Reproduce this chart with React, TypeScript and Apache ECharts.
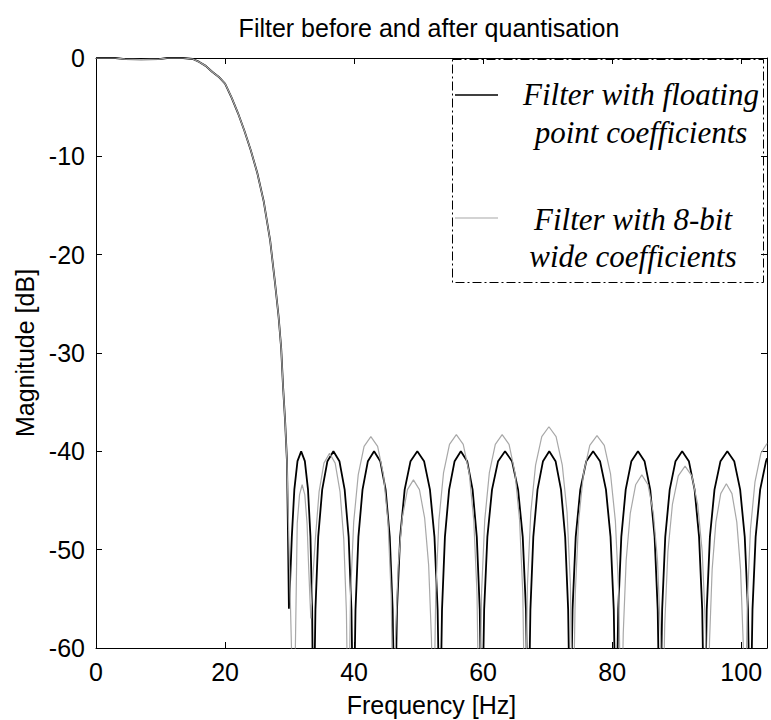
import { useEffect, useRef } from "react";
import * as echarts from "echarts";

// ---------- data ----------
const xTicks = [0, 20, 40, 60, 80, 100];
const yTicks = [0, -10, -20, -30, -40, -50, -60];

// passband + transition band (shared by both responses)
const transitionHz = [0, 3, 4.5, 7, 9.8, 11, 13.5, 15, 16, 17, 18, 19, 20, 21, 22, 23, 24, 25, 26, 27, 27.75, 28.3, 28.7, 29.0, 29.3, 29.6];
const transitionDb = [0, 0, -0.12, -0.15, -0.12, 0, 0, -0.1, -0.4, -0.8, -1.4, -1.9, -2.6, -4.0, -5.6, -7.4, -9.4, -11.7, -14.6, -18.6, -22.9, -26.3, -29.5, -33.5, -36.8, -41.0];

// stopband, floating point coefficients
const floatHz = [
  29.75, 29.9, 30.1, 30.35, 30.74, 31.23, 31.8, 32.37, 32.86, 33.24, 33.5, 33.7,
  34.01, 34.44, 35.06, 35.87, 36.8, 37.73, 38.54, 39.16, 39.59, 39.9,
  40.22, 40.67, 41.31, 42.14, 43.1, 44.06, 44.89, 45.53, 45.98, 46.3,
  46.65, 47.14, 47.84, 48.75, 49.8, 50.85, 51.76, 52.46, 52.95, 53.3,
  53.63, 54.08, 54.73, 55.58, 56.55, 57.53, 58.37, 59.02, 59.48, 59.8,
  60.16, 60.66, 61.38, 62.32, 63.4, 64.48, 65.42, 66.14, 66.64, 67.0,
  67.33, 67.78, 68.43, 69.28, 70.25, 71.23, 72.07, 72.72, 73.18, 73.5,
  73.86, 74.35, 75.06, 75.99, 77.05, 78.12, 79.04, 79.75, 80.25, 80.6,
  80.94, 81.42, 82.1, 82.98, 84.0, 85.02, 85.9, 86.58, 87.06, 87.4,
  87.75, 88.23, 88.92, 89.82, 90.85, 91.89, 92.78, 93.47, 93.96, 94.3,
  94.66, 95.15, 95.86, 96.79, 97.85, 98.92, 99.84, 100.55, 101.05, 101.4,
  101.75, 102.24, 102.94, 103.85, 104,
];
const floatDb = [
  -48, -56, -53, -48.7, -43.9, -41.0, -40, -41.0, -43.9, -48.7, -56.1, -70,
  -56.1, -48.7, -43.9, -41.0, -40, -41.0, -43.9, -48.7, -56.1, -70,
  -56.1, -48.7, -43.9, -41.0, -40, -41.0, -43.9, -48.7, -56.1, -70,
  -56.1, -48.7, -43.9, -41.0, -40, -41.0, -43.9, -48.7, -56.1, -70,
  -56.1, -48.7, -43.9, -41.0, -40, -41.0, -43.9, -48.7, -56.1, -70,
  -56.1, -48.7, -43.9, -41.0, -40, -41.0, -43.9, -48.7, -56.1, -70,
  -56.1, -48.7, -43.9, -41.0, -40, -41.0, -43.9, -48.7, -56.1, -70,
  -56.1, -48.7, -43.9, -41.0, -40, -41.0, -43.9, -48.7, -56.1, -70,
  -56.1, -48.7, -43.9, -41.0, -40, -41.0, -43.9, -48.7, -56.1, -70,
  -56.1, -48.7, -43.9, -41.0, -40, -41.0, -43.9, -48.7, -56.1, -70,
  -56.1, -48.7, -43.9, -41.0, -40, -41.0, -43.9, -48.7, -56.1, -70,
  -56.1, -48.7, -43.9, -41.0, -40.7,
];

// stopband, 8-bit wide coefficients
const quantHz = [
  30.0, 30.3, 30.6, 30.9, 31.19, 31.55, 31.95, 32.36, 32.71, 32.98, 33.16, 33.3,
  33.59, 34.0, 34.58, 35.33, 36.2, 37.07, 37.82, 38.4, 38.81, 39.1,
  39.45, 39.94, 40.64, 41.55, 42.6, 43.65, 44.56, 45.26, 45.75, 46.1,
  46.41, 46.84, 47.46, 48.27, 49.2, 50.13, 50.94, 51.56, 51.99, 52.3,
  52.66, 53.15, 53.86, 54.79, 55.85, 56.92, 57.84, 58.55, 59.05, 59.4,
  59.76, 60.25, 60.96, 61.89, 62.95, 64.02, 64.94, 65.65, 66.15, 66.5,
  66.87, 67.39, 68.13, 69.09, 70.2, 71.31, 72.27, 73.01, 73.53, 73.9,
  74.28, 74.8, 75.55, 76.53, 77.65, 78.78, 79.75, 80.5, 81.03, 81.4,
  81.72, 82.17, 82.81, 83.64, 84.6, 85.56, 86.39, 87.03, 87.48, 87.8,
  88.15, 88.64, 89.34, 90.25, 91.3, 92.35, 93.26, 93.96, 94.45, 94.8,
  95.09, 95.5, 96.08, 96.83, 97.7, 98.57, 99.32, 99.9, 100.31, 100.6,
  100.95, 101.44, 102.14, 103.05, 104,
];
const quantDb = [
  -52, -60, -68, -60, -47.3, -44.4, -43.4, -44.4, -47.3, -52.1, -55, -57,
  -53, -48.9, -44.1, -41.2, -40.2, -41.2, -44.1, -48.9, -56.3, -70,
  -54.6, -47.2, -42.4, -39.5, -38.5, -39.5, -42.4, -47.2, -54.6, -70,
  -59.0, -51.6, -46.8, -43.9, -42.9, -43.9, -46.8, -51.6, -59.0, -70,
  -54.4, -47.0, -42.2, -39.3, -38.3, -39.3, -42.2, -47.0, -54.4, -70,
  -54.4, -47.0, -42.2, -39.3, -38.3, -39.3, -42.2, -47.0, -54.4, -70,
  -53.6, -46.2, -41.4, -38.5, -37.5, -38.5, -41.4, -46.2, -53.6, -70,
  -54.5, -47.1, -42.3, -39.4, -38.4, -39.4, -42.3, -47.1, -54.5, -70,
  -58.5, -51.1, -46.3, -43.4, -42.4, -43.4, -46.3, -51.1, -58.5, -70,
  -57.6, -50.2, -45.4, -42.5, -41.5, -42.5, -45.4, -50.2, -57.6, -70,
  -59.4, -52.0, -47.2, -44.3, -43.3, -44.3, -47.2, -52.0, -59.4, -70,
  -55.3, -47.9, -43.1, -40.2, -39.2,
];

const legendFloat = "Filter with floating\npoint coefficients";
const legendQuant = "Filter with 8-bit\nwide coefficients";

// ---------- styling ----------
const SANS = "'Liberation Sans', Arial, sans-serif";
const SERIF = "'Liberation Serif', 'Times New Roman', serif";
const GRAY = "#a8a8a8";

const pairs = (xs: number[], ys: number[]) => xs.map((x, i) => [x, ys[i]]);

export default function App() {
  const ref = useRef<HTMLDivElement>(null);

  useEffect(() => {
    const chart = echarts.init(ref.current!, null, { renderer: "svg" });
    const shared = pairs(transitionHz, transitionDb);
    const floatData = [...shared, ...pairs(floatHz, floatDb)];
    const quantData = [...shared, ...pairs(quantHz, quantDb)];

    const axisLine = { show: true, onZero: false, lineStyle: { color: "#000", width: 1 } };
    const axisTick = { show: true, inside: true, length: 6, lineStyle: { color: "#000", width: 1 } };

    chart.setOption({
      animation: false,
      backgroundColor: "#fff",
      title: {
        text: "Filter before and after quantisation",
        left: 429,
        top: 15,
        padding: 0,
        textAlign: "center",
        textStyle: { fontFamily: SANS, fontSize: 25, fontWeight: "normal", color: "#000" },
      },
      grid: { left: 96, right: 4, top: 58, bottom: 72, containLabel: false, outerBoundsMode: "none" },
      xAxis: [
        {
          type: "value",
          position: "bottom",
          min: 0,
          max: 104,
          axisLine,
          axisTick: { ...axisTick, customValues: xTicks },
          splitLine: { show: false },
          axisLabel: {
            customValues: xTicks,
            margin: 11,
            fontFamily: SANS,
            fontSize: 25,
            color: "#000",
          },
          name: "Frequency [Hz]",
          nameLocation: "middle",
          nameGap: 44,
          nameTextStyle: { fontFamily: SANS, fontSize: 25, color: "#000" },
        },
        {
          type: "value",
          position: "top",
          min: 0,
          max: 104,
          axisLine,
          axisTick: { ...axisTick, customValues: xTicks },
          axisLabel: { show: false },
          splitLine: { show: false },
        },
      ],
      yAxis: [
        {
          type: "value",
          position: "left",
          min: -60,
          max: 0,
          interval: 10,
          axisLine,
          axisTick,
          splitLine: { show: false },
          axisLabel: { margin: 11, fontFamily: SANS, fontSize: 25, color: "#000", customValues: yTicks },
          name: "Magnitude [dB]",
          nameLocation: "middle",
          nameGap: 53,
          nameTextStyle: { fontFamily: SANS, fontSize: 25, color: "#000" },
        },
        {
          type: "value",
          position: "right",
          min: -60,
          max: 0,
          interval: 10,
          axisLine,
          axisTick,
          axisLabel: { show: false },
          splitLine: { show: false },
        },
      ],
      series: [
        {
          name: "Filter with floating point coefficients",
          type: "line",
          data: floatData,
          showSymbol: false,
          symbol: "none",
          clip: true,
          lineStyle: { color: "#000", width: 1.8 },
          z: 2,
        },
        {
          name: "Filter with 8-bit wide coefficients",
          type: "line",
          data: quantData,
          showSymbol: false,
          symbol: "none",
          clip: true,
          lineStyle: { color: GRAY, width: 1.2 },
          z: 3,
        },
      ],
      graphic: [
        {
          type: "rect",
          shape: { x: 452.5, y: 59.5, width: 311, height: 223 },
          style: { fill: "none", stroke: "#000", lineWidth: 1, lineDash: [9, 3, 2, 3] },
          silent: true,
        },
        {
          type: "line",
          shape: { x1: 455, y1: 95, x2: 498, y2: 95 },
          style: { stroke: "#000", lineWidth: 1.5 },
        },
        {
          type: "line",
          shape: { x1: 455, y1: 218, x2: 498, y2: 218 },
          style: { stroke: GRAY, lineWidth: 1.2 },
        },
        {
          type: "text",
          x: 641,
          y: 113.5,
          style: {
            text: legendFloat,
            fontFamily: SERIF,
            fontStyle: "italic",
            fontSize: 31,
            lineHeight: 38,
            align: "center",
            verticalAlign: "middle",
            fill: "#000",
          },
        },
        {
          type: "text",
          x: 633,
          y: 238,
          style: {
            text: legendQuant,
            fontFamily: SERIF,
            fontStyle: "italic",
            fontSize: 31,
            lineHeight: 37,
            align: "center",
            verticalAlign: "middle",
            fill: "#000",
          },
        },
      ],
    });
    return () => chart.dispose();
  }, []);

  return (
    <div
      ref={ref}
      style={{ position: "fixed", left: 0, top: 0, width: 771, height: 720, background: "#fff" }}
    />
  );
}
